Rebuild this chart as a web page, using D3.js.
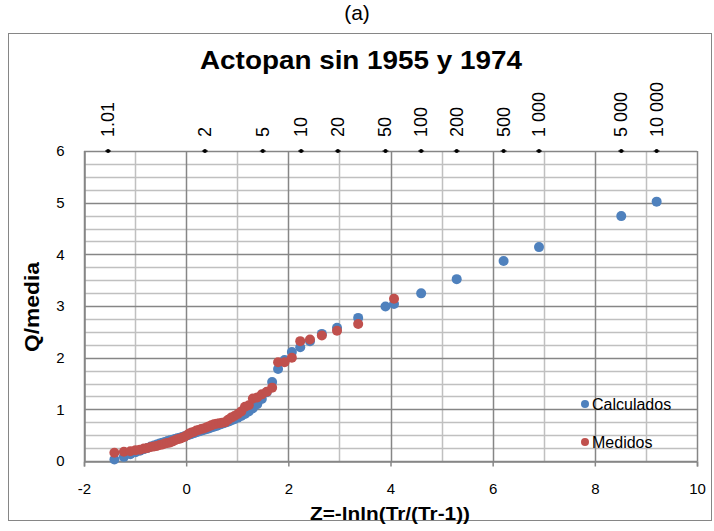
<!DOCTYPE html>
<html>
<head>
<meta charset="utf-8">
<script src="https://cdn.jsdelivr.net/npm/d3@7/dist/d3.min.js"></script>
<style>
  body { margin: 0; background: #fff; }
  text { font-family: "Liberation Sans", Arial, sans-serif; }
</style>
</head>
<body>
<div id="chart"></div>
<script>
// Z = -lnln(Tr/(Tr-1)) for each ranked year (58 years)
var z_obs = [-1.405, -1.219, -1.092, -0.990, -0.904, -0.827, -0.757, -0.692, -0.631, -0.574,
             -0.519, -0.465, -0.414, -0.364, -0.314, -0.266, -0.219, -0.172, -0.125, -0.079,
             -0.033, 0.014, 0.060, 0.106, 0.152, 0.199, 0.246, 0.294, 0.342, 0.393,
             0.443, 0.493, 0.544, 0.597, 0.650, 0.706, 0.763, 0.821, 0.882, 0.945,
             1.011, 1.079, 1.151, 1.226, 1.306, 1.391, 1.481, 1.578, 1.683, 1.799,
             1.926, 2.069, 2.233, 2.424, 2.656, 2.953, 3.367, 4.069];

var medidos = [0.16, 0.18, 0.19, 0.21, 0.22, 0.24, 0.25, 0.27, 0.28, 0.29,
               0.31, 0.32, 0.34, 0.35, 0.36, 0.38, 0.40, 0.42, 0.43, 0.45,
               0.47, 0.50, 0.53, 0.55, 0.56, 0.59, 0.60, 0.62, 0.63, 0.65,
               0.67, 0.69, 0.71, 0.72, 0.73, 0.74, 0.75, 0.80, 0.84, 0.87,
               0.91, 0.96, 1.05, 1.08, 1.21, 1.23, 1.29, 1.34, 1.42, 1.91,
               1.91, 2.00, 2.32, 2.35, 2.43, 2.52, 2.65, 3.14];

var calculados = [0.03, 0.08, 0.13, 0.17, 0.20, 0.23, 0.25, 0.28, 0.30, 0.32,
                  0.34, 0.355, 0.37, 0.385, 0.40, 0.41, 0.425, 0.44, 0.45, 0.465,
                  0.48, 0.495, 0.51, 0.525, 0.54, 0.555, 0.57, 0.585, 0.60, 0.615,
                  0.63, 0.65, 0.665, 0.68, 0.70, 0.72, 0.74, 0.76, 0.785, 0.81,
                  0.84, 0.87, 0.91, 0.96, 1.02, 1.10, 1.20, 1.33, 1.53, 1.78,
                  1.955, 2.11, 2.20, 2.32, 2.46, 2.58, 2.77, 3.04];

// extra calculated points at design return periods
var z_extra = [3.902, 4.600, 5.296, 6.214, 6.907, 8.517, 9.210];
var calc_extra = [2.99, 3.245, 3.52, 3.87, 4.14, 4.74, 5.02];

// return period labels on the top row (y = 6)
var tr_labels = ["1.01", "2", "5", "10", "20", "50", "100", "200", "500", "1 000", "5 000", "10 000"];
var tr_z = [-1.529, 0.367, 1.500, 2.250, 2.970, 3.902, 4.600, 5.296, 6.214, 6.907, 8.517, 9.210];

var x_ticks = [-2, 0, 2, 4, 6, 8, 10];
var y_ticks = [0, 1, 2, 3, 4, 5, 6];

var series = [
  { name: "Calculados", color: "#4F81BD" },
  { name: "Medidos", color: "#C0504D" }
];

var v = function() {
  var W = 714, H = 531;
  var left = 84, right = 697, top = 151, bottom = 461;

  var svg = d3.select("#chart").append("svg")
              .attr("width", W)
              .attr("height", H);

  var x = d3.scaleLinear().domain([-2, 10]).range([left, right]);
  var y = d3.scaleLinear().domain([0, 6]).range([bottom, top]);

  // (a) label and outer frame
  svg.append("text")
     .attr("x", 357).attr("y", 20)
     .attr("text-anchor", "middle")
     .style("font-size", "21px")
     .text("(a)");

  svg.append("rect")
     .attr("x", 8.5).attr("y", 33.5)
     .attr("width", 703).attr("height", 487)
     .attr("fill", "none")
     .attr("stroke", "#868686")
     .attr("stroke-width", 1);

  svg.append("text")
     .attr("x", 361).attr("y", 69)
     .attr("text-anchor", "middle")
     .attr("textLength", 322)
     .attr("lengthAdjust", "spacingAndGlyphs")
     .style("font-size", "25px")
     .style("font-weight", "bold")
     .text("Actopan sin 1955 y 1974");

  // -- minor grid
  var g = svg.append("g");
  g.selectAll(".vminor")
   .data(d3.range(-1, 10, 2))
   .enter().append("line")
   .attr("x1", function(d) { return Math.round(x(d)) + 0.5; })
   .attr("x2", function(d) { return Math.round(x(d)) + 0.5; })
   .attr("y1", top).attr("y2", bottom)
   .attr("stroke", "#c0c0c0").attr("stroke-width", 1.5);

  g.selectAll(".hminor")
   .data(d3.range(0.25, 6, 0.25).filter(function(d) { return d % 1 != 0; }))
   .enter().append("line")
   .attr("x1", left).attr("x2", right)
   .attr("y1", function(d) { return Math.round(y(d)) + 0.5; })
   .attr("y2", function(d) { return Math.round(y(d)) + 0.5; })
   .attr("stroke", "#c0c0c0").attr("stroke-width", 1.5);

  // -- major grid
  g.selectAll(".vmajor")
   .data(x_ticks)
   .enter().append("line")
   .attr("x1", function(d) { return Math.round(x(d)) + 0.5; })
   .attr("x2", function(d) { return Math.round(x(d)) + 0.5; })
   .attr("y1", top).attr("y2", bottom)
   .attr("stroke", "#868686").attr("stroke-width", 1.5);

  g.selectAll(".hmajor")
   .data(y_ticks)
   .enter().append("line")
   .attr("x1", left).attr("x2", right)
   .attr("y1", function(d) { return Math.round(y(d)) + 0.5; })
   .attr("y2", function(d) { return Math.round(y(d)) + 0.5; })
   .attr("stroke", "#868686").attr("stroke-width", 1.5);

  // -- axes
  var x_axis = d3.axisBottom(x).tickValues(x_ticks).tickSize(5).tickPadding(17)
                 .tickFormat(function(d) { return String(d); });
  var gx = svg.append("g")
              .attr("transform", "translate(0," + (Math.round(y(0)) + 0.5) + ")")
              .call(x_axis);
  gx.select(".domain").attr("stroke", "#868686").attr("stroke-width", 1.5);
  gx.selectAll(".tick line").attr("stroke", "#868686").attr("stroke-width", 1.5);
  gx.selectAll(".tick text").style("font-size", "15px").attr("fill", "#000")
    .style("font-family", "Liberation Sans, Arial, sans-serif");

  var y_axis = d3.axisLeft(y).tickValues(y_ticks).tickSize(0).tickPadding(20)
                 .tickFormat(function(d) { return String(d); });
  var gy = svg.append("g")
              .attr("transform", "translate(" + (Math.round(x(-2)) + 0.5) + ",0)")
              .call(y_axis);
  gy.select(".domain").attr("stroke", "#868686").attr("stroke-width", 1.5);
  gy.selectAll(".tick text").style("font-size", "15px").attr("fill", "#000")
    .style("font-family", "Liberation Sans, Arial, sans-serif");

  // -- top return period markers and labels
  svg.selectAll(".trdash")
     .data(tr_z)
     .enter().append("line")
     .attr("x1", function(d) { return x(d) - 3; })
     .attr("x2", function(d) { return x(d) + 3; })
     .attr("y1", y(6)).attr("y2", y(6))
     .attr("stroke", "#000").attr("stroke-width", 1);

  svg.selectAll(".trdot")
     .data(tr_z)
     .enter().append("circle")
     .attr("cx", function(d) { return x(d); })
     .attr("cy", y(6))
     .attr("r", 2)
     .attr("fill", "#000");

  svg.selectAll(".trlabel")
     .data(tr_labels)
     .enter().append("text")
     .attr("transform", function(d, i) {
       return "translate(" + (x(tr_z[i]) + 6) + "," + 137 + ") rotate(-90)";
     })
     .attr("text-anchor", "start")
     .style("font-size", "18px")
     .text(function(d) { return d; });

  // -- points
  var pts = svg.append("g");
  pts.selectAll(".calc")
     .data(z_obs.concat(z_extra))
     .enter().append("circle")
     .attr("cx", function(d) { return x(d); })
     .attr("cy", function(d, i) {
       var q = i < calculados.length ? calculados[i] : calc_extra[i - calculados.length];
       return y(q);
     })
     .attr("r", 5)
     .attr("fill", series[0].color);

  pts.selectAll(".med")
     .data(z_obs)
     .enter().append("circle")
     .attr("cx", function(d) { return x(d); })
     .attr("cy", function(d, i) { return y(medidos[i]); })
     .attr("r", 5)
     .attr("fill", series[1].color);

  // -- axis titles
  svg.append("text")
     .attr("x", 390).attr("y", 520)
     .attr("text-anchor", "middle")
     .attr("textLength", 160)
     .attr("lengthAdjust", "spacingAndGlyphs")
     .style("font-size", "19px")
     .style("font-weight", "bold")
     .text("Z=-lnln(Tr/(Tr-1))");

  svg.append("text")
     .attr("transform", "translate(39,307) rotate(-90)")
     .attr("text-anchor", "middle")
     .attr("textLength", 90)
     .attr("lengthAdjust", "spacingAndGlyphs")
     .style("font-size", "21px")
     .style("font-weight", "bold")
     .text("Q/media");

  // -- legend
  var lg = svg.append("g");
  lg.selectAll("circle")
    .data(series)
    .enter().append("circle")
    .attr("cx", 585)
    .attr("cy", function(d, i) { return 404 + i * 38; })
    .attr("r", 4)
    .attr("fill", function(d) { return d.color; });

  lg.selectAll("text")
    .data(series)
    .enter().append("text")
    .attr("x", 592)
    .attr("y", function(d, i) { return 410 + i * 38; })
    .style("font-size", "16px")
    .text(function(d) { return d.name; });
};

v();
</script>
</body>
</html>
